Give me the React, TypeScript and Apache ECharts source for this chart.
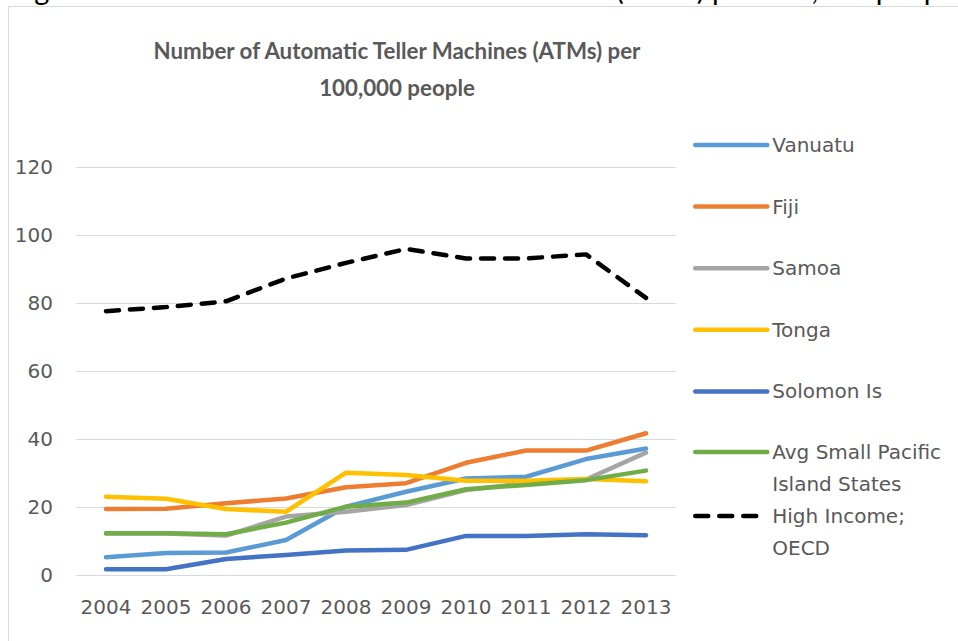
import React, { useEffect, useRef } from "react";
import * as echarts from "echarts";

const years = ["2004", "2005", "2006", "2007", "2008", "2009", "2010", "2011", "2012", "2013"];
const vanuatu = [5.2, 6.5, 6.6, 10.3, 20.1, 24.5, 28.4, 28.9, 34.1, 37.2];
const fiji = [19.4, 19.5, 21.1, 22.5, 25.8, 27.0, 33.0, 36.6, 36.6, 41.7];
const samoa = [12.2, 12.2, 11.6, 17.2, 18.6, 20.6, 25.0, 27.0, 28.1, 36.0];
const tonga = [23.0, 22.4, 19.4, 18.6, 30.1, 29.4, 27.7, 27.7, 28.2, 27.6];
const solomon = [1.7, 1.7, 4.7, 5.9, 7.2, 7.4, 11.5, 11.5, 12.0, 11.7];
const avgSmall = [12.3, 12.3, 12.0, 15.4, 20.1, 21.3, 25.2, 26.5, 27.9, 30.7];
const highIncome = [77.6, 78.8, 80.5, 87.2, 91.8, 95.9, 93.1, 93.1, 94.3, 81.5];

const seriesNames = [
  "Vanuatu",
  "Fiji",
  "Samoa",
  "Tonga",
  "Solomon Is",
  "Avg Small Pacific Island States",
  "High Income; OECD",
];
const seriesData = [vanuatu, fiji, samoa, tonga, solomon, avgSmall, highIncome];
const seriesColors = ["#5B9BD5", "#ED7D31", "#A5A5A5", "#FFC000", "#4472C4", "#70AD47", "#000000"];
const legendLabels: Record<string, string> = {
  "Avg Small Pacific Island States": "\nAvg Small Pacific\nIsland States",
  "High Income; OECD": "\nHigh Income;\nOECD",
};

const titleText = "Number of Automatic Teller Machines (ATMs) per\n100,000 people";
const captionText = "Figure 1: Number of Automatic Teller Machines (ATMs) per 100,000 people";

const TXT = "#595959";
const GRID = "#d9d9d9";
const FONT = "DejaVu Sans";

export default function App() {
  const ref = useRef<HTMLDivElement>(null);
  useEffect(() => {
    const chart = echarts.init(ref.current!, null, { renderer: "svg" });
    const legendText = { fontFamily: FONT, fontSize: 20, color: TXT };
    const legendBase = {
      orient: "vertical",
      left: 693,
      padding: 0,
      itemWidth: 72,
      itemHeight: 14,
      lineStyle: { width: 4.5 },
      itemStyle: { opacity: 0 },
      selectedMode: false,
    };
    chart.setOption({
      animation: false,
      backgroundColor: "#ffffff",
      grid: { left: 76, right: 282, top: 167, bottom: 66 },
      xAxis: {
        type: "category",
        data: years,
        boundaryGap: true,
        axisLine: { show: false },
        axisTick: { show: false },
        axisLabel: { color: TXT, fontFamily: FONT, fontSize: 20, margin: 22, interval: 0 },
      },
      yAxis: {
        type: "value",
        min: 0,
        max: 120,
        interval: 20,
        axisLine: { show: false },
        axisTick: { show: false },
        splitLine: { lineStyle: { color: GRID, width: 1 } },
        axisLabel: { color: TXT, fontFamily: FONT, fontSize: 20, margin: 23 },
      },
      legend: [
        {
          ...legendBase,
          data: seriesNames.slice(0, 5),
          top: 134.5,
          itemGap: 40.6,
          textStyle: { ...legendText, lineHeight: 21 },
        },
        {
          ...legendBase,
          data: [seriesNames[5]],
          top: 404,
          formatter: (n: string) => legendLabels[n] || n,
          textStyle: { ...legendText, lineHeight: 32 },
        },
        {
          ...legendBase,
          data: [seriesNames[6]],
          top: 468,
          formatter: (n: string) => legendLabels[n] || n,
          textStyle: { ...legendText, lineHeight: 32 },
        },
      ],
      graphic: [
        {
          type: "rect",
          shape: { x: 8.5, y: 6.5, width: 960, height: 700 },
          style: { fill: "none", stroke: GRID, lineWidth: 1 },
          silent: true,
        },
        {
          type: "text",
          x: 11,
          y: -12,
          style: {
            text: captionText,
            fontFamily: "Lato",
            fontSize: 29,
            fill: "#000000",
            align: "left",
            verticalAlign: "middle",
          },
          silent: true,
        },
        {
          type: "text",
          x: 397,
          y: 68.5,
          style: {
            text: titleText,
            fontFamily: "Lato",
            fontWeight: "bold",
            fontSize: 22.3,
            lineHeight: 37,
            fill: TXT,
            align: "center",
            verticalAlign: "middle",
          },
          silent: true,
        },
      ],
      series: seriesNames.map((name, i) => ({
        name,
        type: "line",
        data: seriesData[i],
        symbol: "none",
        showSymbol: false,
        color: seriesColors[i],
        lineStyle: {
          color: seriesColors[i],
          width: 4.5,
          cap: "round",
          join: "round",
          type: i === 6 ? [13, 11] : "solid",
        },
        emphasis: { disabled: true },
        z: 2 + i,
      })),
    });
    return () => chart.dispose();
  }, []);
  return (
    <div
      ref={ref}
      style={{ position: "absolute", left: 0, top: 0, width: 958, height: 641 }}
    />
  );
}
